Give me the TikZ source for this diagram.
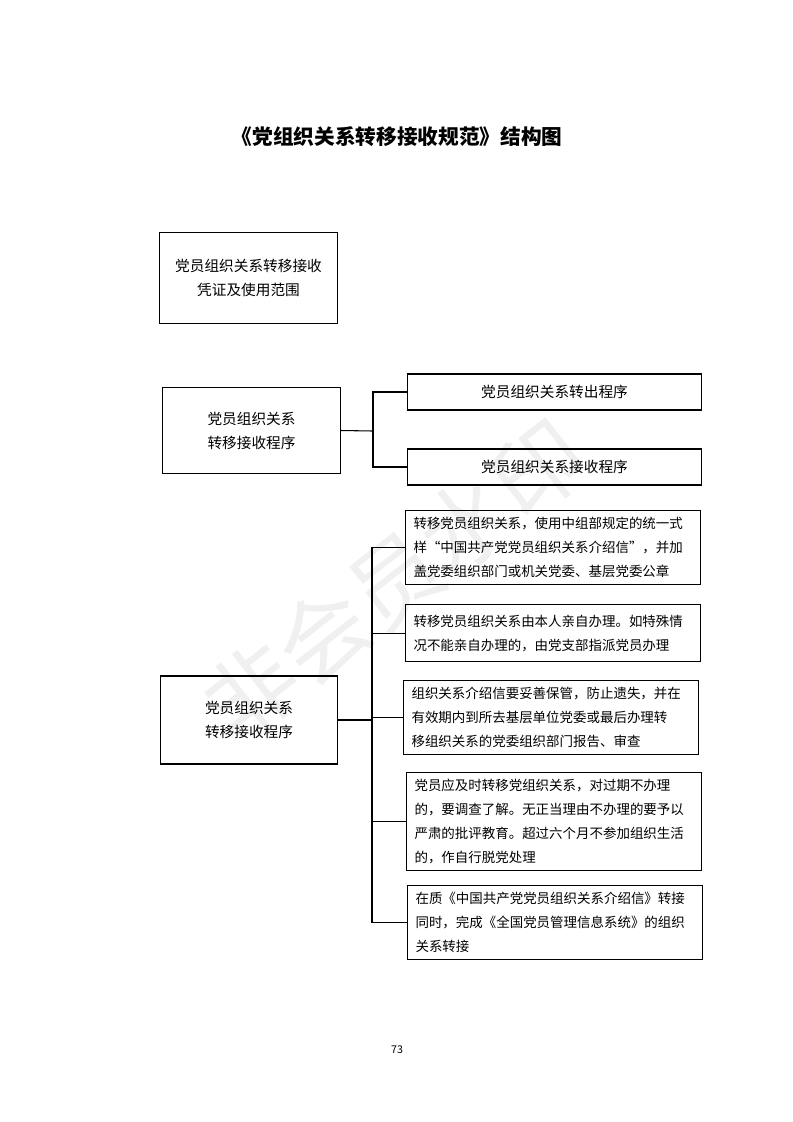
\documentclass[tikz,border=0pt]{standalone}
\usepackage{fontspec}
\setmainfont{Noto Sans CJK SC}
\usetikzlibrary{calc}
\tikzset{
  box/.style={draw, thick, inner sep=0pt, align=center, font=\fontsize{11}{18}\selectfont},
  textbox/.style={draw, thick, anchor=north west, inner xsep=6pt, inner ysep=5pt, text width=209pt, align=left, font=\fontsize{10.1}{18}\selectfont},
  link/.style={thick}
}
\begin{document}
\begin{tikzpicture}[x=0.75pt, y=-0.75pt]
            \useasboundingbox (0,0) rectangle (793,1122);
            \node[rotate=38, text=gray!12, font=\fontsize{68}{68}\selectfont] (mark) at (395,580) {非会员水印};

            \node (title) at (397,137) {\fontsize{15.5}{18}\selectfont\bfseries 《党组织关系转移接收规范》结构图};

            \node (v_a) [box, minimum width=133pt, minimum height=68pt] at (248.5,278) {党员组织关系转移接收\\凭证及使用范围};

            \node (v_b) [box, minimum width=133pt, minimum height=65pt] at (251.5,430.5) {党员组织关系\\转移接收程序};
            \node (b_1) [box, minimum width=221pt, minimum height=27pt] at (554.5,392) {党员组织关系转出程序};
            \node (b_2) [box, minimum width=221pt, minimum height=27pt] at (554.5,467) {党员组织关系接收程序};
            \coordinate (b_fork) at (373,431);
            \draw[link] (v_b.east) -- (b_fork);
            \draw[link] (b_1.west) -| (b_fork) |- (b_2.west);

            \node (v_c) [box, minimum width=133pt, minimum height=66pt] at (249,720) {党员组织关系\\转移接收程序};
            \node (c_1) [textbox, minimum height=55pt] at (405,510) {转移党员组织关系，使用中组部规定的统一式\\样“中国共产党党员组织关系介绍信”，并加\\盖党委组织部门或机关党委、基层党委公章};
            \node (c_2) [textbox, minimum height=43pt] at (405,604) {转移党员组织关系由本人亲自办理。如特殊情\\况不能亲自办理的，由党支部指派党员办理};
            \node (c_3) [textbox, minimum height=55pt] at (403,680) {组织关系介绍信要妥善保管，防止遗失，并在\\有效期内到所去基层单位党委或最后办理转\\移组织关系的党委组织部门报告、审查};
            \node (c_4) [textbox, minimum height=68pt] at (406,772) {党员应及时转移党组织关系，对过期不办理\\的，要调查了解。无正当理由不办理的要予以\\严肃的批评教育。超过六个月不参加组织生活\\的，作自行脱党处理};
            \node (c_5) [textbox, minimum height=55pt] at (407,885) {在质《中国共产党党员组织关系介绍信》转接\\同时，完成《全国党员管理信息系统》的组织\\关系转接};
            \coordinate (c_fork) at (372,720);
            \draw[link] (v_c.east) -- (c_fork);
            \draw[link] (c_1.west) -| (c_fork) |- (c_5.west);
            \foreach \k in {2,3,4} {
              \draw[link] (c_\k.west) -- (c_\k.west -| c_fork);
            }

            \node (page) at (397,1050) {\fontsize{8}{10}\selectfont 73};
        \end{tikzpicture}
\end{document}
